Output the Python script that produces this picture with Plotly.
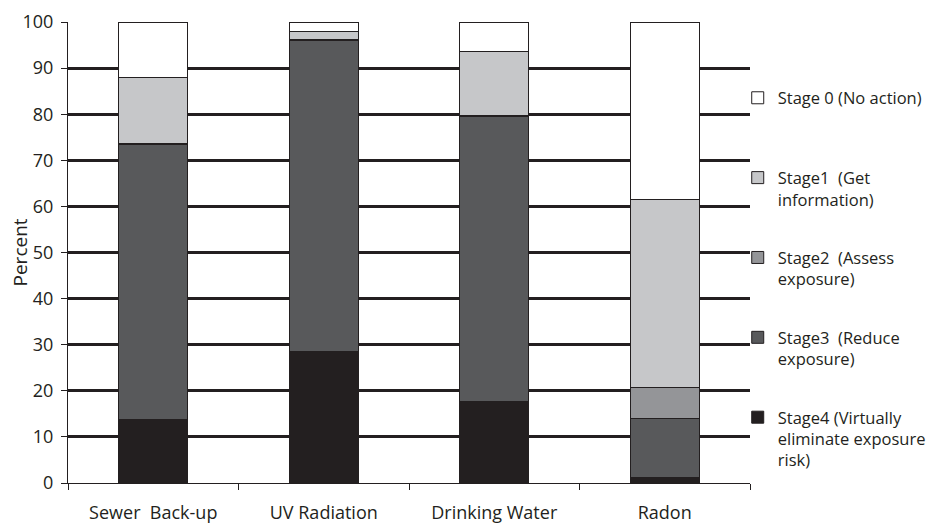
import plotly.graph_objects as go

categories = ["Sewer  Back-up", "UV Radiation", "Drinking Water", "Radon"]
stage4 = [13.8, 28.6, 17.6, 1.1]
stage3 = [59.6, 67.3, 61.8, 13.0]
stage2 = [0.3, 0.3, 0.3, 6.7]
stage1 = [14.2, 1.8, 14.0, 40.6]
stage0 = [12.1, 2.0, 6.3, 38.6]

series_names = [
    "Stage4 (Virtually<br>eliminate exposure<br>risk)",
    "Stage3  (Reduce<br>exposure)<br> ",
    "Stage2  (Assess<br>exposure)<br> ",
    "Stage1  (Get<br>information)<br> ",
    "Stage 0 (No action)<br> <br> ",
]
series_values = [stage4, stage3, stage2, stage1, stage0]
series_colors = ["#231f20", "#58595b", "#949598", "#c6c7c9", "#ffffff"]
legend_ranks = [5, 4, 3, 2, 1]

y_ticks = list(range(0, 101, 10))
y_title = "Percent"

FONT = "Open Sans, Lato, sans-serif"

fig = go.Figure()
for i, (name, vals, col, rk) in enumerate(zip(series_names, series_values, series_colors, legend_ranks)):
    fig.add_trace(go.Bar(
        x=categories, y=vals, name=name, legendgroup=f"g{i}", legendrank=rk,
        marker=dict(color=col, line=dict(color="#231f20", width=1)),
        width=0.405,
    ))

fig.add_annotation(
    text=y_title, xref="paper", yref="paper", x=-0.0704, y=0.5,
    textangle=-90, showarrow=False, xanchor="center", yanchor="middle",
    font=dict(size=19, family=FONT, color="#231f20"),
)

fig.update_layout(
    barmode="stack",
    width=933, height=517,
    margin=dict(l=60, r=191, t=14, b=42, autoexpand=False),
    paper_bgcolor="white", plot_bgcolor="white",
    font=dict(family=FONT, color="#231f20", size=17),
    showlegend=True,
    legend=dict(
        x=0.982, xanchor="left", y=0.873, yanchor="top",
        traceorder="grouped", tracegroupgap=12.5,
        valign="top", font=dict(size=16.5), bgcolor="rgba(0,0,0,0)",
        itemwidth=30,
    ),
)
fig.update_yaxes(
    range=[0, 100], tickvals=y_ticks,
    showgrid=True, gridcolor="#231f20", gridwidth=3,
    showline=True, linecolor="#231f20", linewidth=1,
    ticks="outside", ticklen=6, tickcolor="#231f20",
    tickfont=dict(size=18), zeroline=False, automargin=False,
    ticklabelstandoff=4,
)
fig.update_xaxes(
    showline=True, linecolor="#231f20", linewidth=1,
    ticks="outside", tickson="boundaries", ticklen=6, tickcolor="#231f20",
    tickfont=dict(size=18), showgrid=False, automargin=False,
    ticklabelstandoff=13,
)
fig.write_html("out.html")
